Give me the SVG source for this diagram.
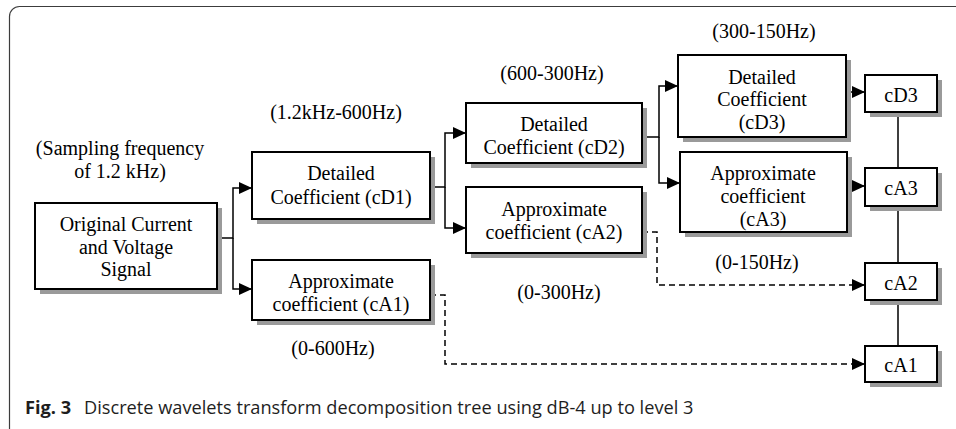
<svg xmlns="http://www.w3.org/2000/svg" width="956" height="429" viewBox="0 0 956 429">
<style>
.frame{fill:none;stroke:#3c3c3c;stroke-width:1.2}
.sh{fill:#9a9a9a}
.bx{fill:#fff;stroke:#000;stroke-width:2}
.t{font-family:"Liberation Serif","Times New Roman",serif;font-size:20px;fill:#000;text-anchor:middle}
.ln{fill:none;stroke:#000;stroke-width:1.5}
.ds{fill:none;stroke:#000;stroke-width:1.5;stroke-dasharray:6 4}
.cap{font-family:"Open Sans","Noto Sans",sans-serif;font-size:18.2px;fill:#1e1e1e}
</style>
<defs>
<marker id="ah" markerWidth="13" markerHeight="12" refX="13" refY="6" orient="auto" markerUnits="userSpaceOnUse">
<path d="M0,0 L13,6 L0,12 z" fill="#000"/>
</marker>
</defs>
<rect class="frame" x="9.5" y="6.5" width="960" height="432" rx="10"/>

<g id="connectors">
<path class="ln" d="M217,238 H233 V188 H252" marker-end="url(#ah)"/>
<path class="ln" d="M233,238 V289 H252" marker-end="url(#ah)"/>
<path class="ln" d="M430,187 H445 V133 H466" marker-end="url(#ah)"/>
<path class="ln" d="M445,187 V228 H466" marker-end="url(#ah)"/>
<path class="ln" d="M642,137 H659 V86 H678" marker-end="url(#ah)"/>
<path class="ln" d="M659,137 V183 H680" marker-end="url(#ah)"/>
<path class="ln" d="M846,92 H865" marker-end="url(#ah)"/>
<path class="ln" d="M847,186 H865" marker-end="url(#ah)"/>
<path class="ds" d="M642,232 H657 V285 H865" marker-end="url(#ah)"/>
<path class="ds" d="M430,295 H445 V364 H865" marker-end="url(#ah)"/>
<path class="ln" d="M898,112 V168 M898,206 V263 M898,300 V346"/>
</g>

<g id="n-original">
<rect class="sh" x="40" y="208" width="182" height="86"/>
<rect class="bx" x="35" y="203" width="182" height="86"/>
<text class="t" x="126" y="231">Original Current</text>
<text class="t" x="126" y="254">and Voltage</text>
<text class="t" x="126" y="276">Signal</text>
</g>
<g id="n-cd1">
<rect class="sh" x="257" y="157" width="178" height="67"/>
<rect class="bx" x="252" y="152" width="178" height="67"/>
<text class="t" x="341" y="180">Detailed</text>
<text class="t" x="341" y="204">Coefficient (cD1)</text>
</g>
<g id="n-ca1">
<rect class="sh" x="257" y="265" width="178" height="60"/>
<rect class="bx" x="252" y="260" width="178" height="60"/>
<text class="t" x="341" y="288">Approximate</text>
<text class="t" x="341" y="311">coefficient (cA1)</text>
</g>
<g id="n-cd2">
<rect class="sh" x="471" y="108" width="176" height="60"/>
<rect class="bx" x="466" y="103" width="176" height="60"/>
<text class="t" x="554" y="131">Detailed</text>
<text class="t" x="554" y="154">Coefficient (cD2)</text>
</g>
<g id="n-ca2">
<rect class="sh" x="471" y="192" width="176" height="66"/>
<rect class="bx" x="466" y="187" width="176" height="66"/>
<text class="t" x="554" y="216">Approximate</text>
<text class="t" x="554" y="239">coefficient (cA2)</text>
</g>
<g id="n-cd3">
<rect class="sh" x="683" y="60" width="168" height="82"/>
<rect class="bx" x="678" y="55" width="168" height="82"/>
<text class="t" x="762" y="84">Detailed</text>
<text class="t" x="762" y="106">Coefficient</text>
<text class="t" x="762" y="129">(cD3)</text>
</g>
<g id="n-ca3">
<rect class="sh" x="685" y="157" width="167" height="80"/>
<rect class="bx" x="680" y="152" width="167" height="80"/>
<text class="t" x="763" y="180">Approximate</text>
<text class="t" x="763" y="203">coefficient</text>
<text class="t" x="763" y="226">(cA3)</text>
</g>
<g id="n-out-cd3">
<rect class="sh" x="870" y="80" width="72" height="37"/>
<rect class="bx" x="865" y="75" width="72" height="37"/>
<text class="t" x="901" y="102">cD3</text>
</g>
<g id="n-out-ca3">
<rect class="sh" x="870" y="173" width="72" height="38"/>
<rect class="bx" x="865" y="168" width="72" height="38"/>
<text class="t" x="901" y="195">cA3</text>
</g>
<g id="n-out-ca2">
<rect class="sh" x="870" y="268" width="72" height="37"/>
<rect class="bx" x="865" y="263" width="72" height="37"/>
<text class="t" x="901" y="290">cA2</text>
</g>
<g id="n-out-ca1">
<rect class="sh" x="870" y="351" width="72" height="36"/>
<rect class="bx" x="865" y="346" width="72" height="36"/>
<text class="t" x="901" y="372">cA1</text>
</g>

<g id="labels">
<text class="t" x="120" y="155">(Sampling frequency</text>
<text class="t" x="120" y="178">of 1.2 kHz)</text>
<text class="t" x="336" y="119">(1.2kHz-600Hz)</text>
<text class="t" x="552" y="80">(600-300Hz)</text>
<text class="t" x="764" y="38">(300-150Hz)</text>
<text class="t" x="757" y="269">(0-150Hz)</text>
<text class="t" x="559" y="299">(0-300Hz)</text>
<text class="t" x="333" y="355">(0-600Hz)</text>
</g>

<g id="caption">
<text class="cap" x="25" y="414" font-weight="bold">Fig. 3</text>
<text class="cap" x="84" y="414">Discrete wavelets transform decomposition tree using dB-4 up to level 3</text>
</g>
</svg>
